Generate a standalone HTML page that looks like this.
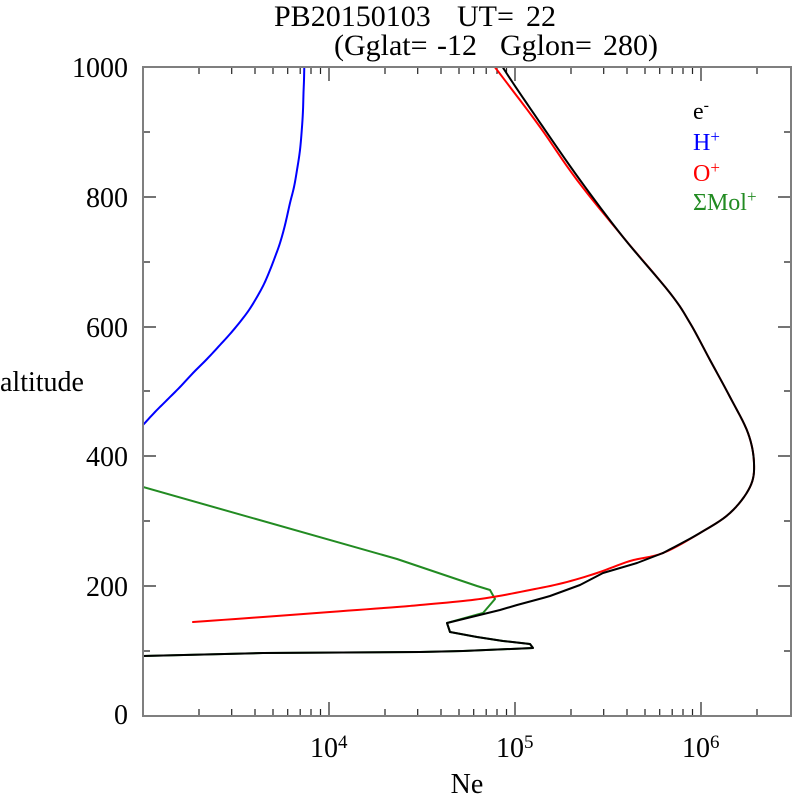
<!DOCTYPE html>
<html>
<head>
<meta charset="utf-8">
<style>
html,body{margin:0;padding:0;background:#fff;}
svg{display:block;}
text{font-family:"Liberation Serif","DejaVu Serif",serif;fill:#000;}
</style>
</head>
<body>
<svg width="792" height="796" viewBox="0 0 792 796" xmlns="http://www.w3.org/2000/svg">
<defs>
<clipPath id="pa"><rect x="143" y="67" width="648" height="649"/></clipPath>
</defs>
<rect width="792" height="796" fill="#fff"/>

<!-- title -->
<text x="274" y="26" font-size="30">PB20150103</text>
<text x="457" y="26" font-size="30">UT=</text>
<text x="526" y="26" font-size="30">22</text>
<text x="334" y="55" font-size="30">(Gglat=</text>
<text x="437" y="55" font-size="30">-12</text>
<text x="500" y="55" font-size="30">Gglon=</text>
<text x="603" y="55" font-size="30">280)</text>

<!-- ticks -->
<g stroke="#222" stroke-width="1.2" fill="none">
<path d="
M199,716v-7 M231.7,716v-7 M255,716v-7 M273,716v-7 M287.7,716v-7 M300.2,716v-7 M311,716v-7 M320.5,716v-7 M329,716v-14
M385,716v-7 M417.7,716v-7 M441,716v-7 M459,716v-7 M473.7,716v-7 M486.2,716v-7 M497,716v-7 M506.5,716v-7 M515,716v-14
M571,716v-7 M603.7,716v-7 M627,716v-7 M645,716v-7 M659.7,716v-7 M672.2,716v-7 M683,716v-7 M692.5,716v-7 M701,716v-14
M757,716v-7
M199,67v7 M231.7,67v7 M255,67v7 M273,67v7 M287.7,67v7 M300.2,67v7 M311,67v7 M320.5,67v7 M329,67v14
M385,67v7 M417.7,67v7 M441,67v7 M459,67v7 M473.7,67v7 M486.2,67v7 M497,67v7 M506.5,67v7 M515,67v14
M571,67v7 M603.7,67v7 M627,67v7 M645,67v7 M659.7,67v7 M672.2,67v7 M683,67v7 M692.5,67v7 M701,67v14
M757,67v7
"/>
<path d="
M143,651h7 M143,586h13 M143,521h7 M143,456h13 M143,391h7 M143,327h13 M143,262h7 M143,197h13 M143,132h7
M791,651h-7 M791,586h-13 M791,521h-7 M791,456h-13 M791,391h-7 M791,327h-13 M791,262h-7 M791,197h-13 M791,132h-7
"/>
</g>

<!-- curves -->
<g clip-path="url(#pa)" fill="none" stroke-width="2" stroke-linejoin="round" stroke-linecap="round">
<!-- H+ -->
<polyline class="sm" stroke="#0000ff" points="304.3,66 304,80 303.5,93 303,110 302,127 300,150 297,170 294,187 290,203 285,225 280,243 275,257 270,270 264,284 257,297 249,310 240,322 230,334 220,345 207,359 193,373 180,387 167,400 155,412 143,425 140,428"/>
<!-- Mol+ -->
<polyline stroke="#228b22" points="140,486 143,487 397,559 477,586 490,590 495,599 483,613 447,623 450,632 477,637 503,641 530,644 533,648 463,651 420,652 263,653 143,656 140,656"/>
<!-- O+ -->
<polyline class="sm" stroke="#ff0000" points="494,66 510,87 540,127 577,180 623,237 670,293 690,323 710,360 730,397 748,433 754,463 750,487 730,513 700,533 663,553 630,561 597,573 563,583 530,590 493,597 463,601 420,605 397,607 330,612 263,617 193,622"/>
<!-- e- smooth part -->
<polyline class="sm" stroke="#000" points="502,66 513,83 543,127 580,180 623,237 670,293 690,323 710,360 730,397 748,433 754,463 750,487 730,513 700,533 663,553"/>
<!-- e- lower part -->
<polyline stroke="#000" points="663,553 637,563 603,573 580,585 550,596 543,598 517,605 500,610 447,623 450,632 477,637 503,641 530,644 533,648 463,651 420,652 263,653 143,656 140,656"/>
</g>

<!-- frame -->
<rect x="143" y="67" width="648" height="649" fill="none" stroke="#7f7f7f" stroke-width="2"/>

<!-- y tick labels -->
<g font-size="28" text-anchor="end">
<text x="128" y="77">1000</text>
<text x="128" y="207">800</text>
<text x="128" y="337">600</text>
<text x="128" y="466">400</text>
<text x="128" y="596">200</text>
<text x="128" y="724">0</text>
</g>
<text x="0" y="391" font-size="28">altitude</text>

<!-- x tick labels -->
<g font-size="28">
<text x="310" y="757">10<tspan font-size="19" dy="-9">4</tspan></text>
<text x="496" y="757">10<tspan font-size="19" dy="-9">5</tspan></text>
<text x="682" y="757">10<tspan font-size="19" dy="-9">6</tspan></text>
</g>
<text x="467" y="793" font-size="28" text-anchor="middle">Ne</text>

<!-- legend -->
<g font-size="24">
<text x="693" y="119">e<tspan font-size="16" dy="-9">-</tspan></text>
<text x="693" y="150" style="fill:#0000ff">H<tspan font-size="17" dy="-8">+</tspan></text>
<text x="693" y="181" style="fill:#ff0000">O<tspan font-size="17" dy="-8">+</tspan></text>
<text x="693" y="210" style="fill:#228b22">ΣMol<tspan font-size="17" dy="-8">+</tspan></text>
</g>
</svg>
<script>
(function(){
  var els=document.querySelectorAll('polyline.sm');
  for(var e=0;e<els.length;e++){
    var s=els[e].getAttribute('points').trim().split(/\s+/).map(function(p){var a=p.split(',');return [parseFloat(a[0]),parseFloat(a[1])];});
    var n=s.length,out=[],N=8;
    for(var i=0;i<n-1;i++){
      var p0=s[Math.max(i-1,0)],p1=s[i],p2=s[i+1],p3=s[Math.min(i+2,n-1)];
      for(var k=0;k<N;k++){
        var t=k/N,t2=t*t,t3=t2*t,q=[];
        for(var d=0;d<2;d++){
          q[d]=0.5*(2*p1[d]+(-p0[d]+p2[d])*t+(2*p0[d]-5*p1[d]+4*p2[d]-p3[d])*t2+(-p0[d]+3*p1[d]-3*p2[d]+p3[d])*t3);
        }
        out.push(q[0].toFixed(2)+','+q[1].toFixed(2));
      }
    }
    out.push(s[n-1][0]+','+s[n-1][1]);
    els[e].setAttribute('points',out.join(' '));
  }
})();
</script>
</body>
</html>
